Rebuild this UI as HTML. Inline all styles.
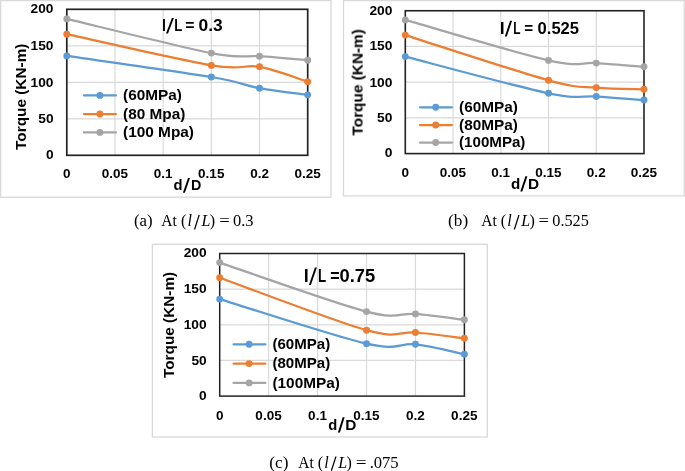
<!DOCTYPE html>
<html><head><meta charset="utf-8"><title>Torque vs d/D charts</title><style>
html,body{margin:0;padding:0;background:#fff;width:685px;height:471px;overflow:hidden;}
svg{display:block;}
text{fill:#000;}
</style></head><body>
<svg width="685" height="471" viewBox="0 0 685 471">
<rect x="0.6" y="0.6" width="330.40" height="196.60" fill="#fff" stroke="#d9d9d9" stroke-width="1.3"/>
<rect x="343.5" y="0.6" width="340.70" height="195.30" fill="#fff" stroke="#d9d9d9" stroke-width="1.3"/>
<rect x="152.4" y="244.3" width="334.90" height="192.70" fill="#fff" stroke="#d9d9d9" stroke-width="1.3"/>
<line x1="114.98" y1="9.3" x2="114.98" y2="155.3" stroke="#d9d9d9" stroke-width="1.2"/>
<line x1="163.16" y1="9.3" x2="163.16" y2="155.3" stroke="#d9d9d9" stroke-width="1.2"/>
<line x1="211.34" y1="9.3" x2="211.34" y2="155.3" stroke="#d9d9d9" stroke-width="1.2"/>
<line x1="259.52" y1="9.3" x2="259.52" y2="155.3" stroke="#d9d9d9" stroke-width="1.2"/>
<line x1="66.8" y1="118.80" x2="307.7" y2="118.80" stroke="#d9d9d9" stroke-width="1.2"/>
<line x1="66.8" y1="82.30" x2="307.7" y2="82.30" stroke="#d9d9d9" stroke-width="1.2"/>
<line x1="66.8" y1="45.80" x2="307.7" y2="45.80" stroke="#d9d9d9" stroke-width="1.2"/>
<rect x="66.8" y="9.3" width="240.90" height="146.00" fill="none" stroke="#222222" stroke-width="1.7"/>
<line x1="453.04" y1="10.75" x2="453.04" y2="153.6" stroke="#d9d9d9" stroke-width="1.2"/>
<line x1="500.78" y1="10.75" x2="500.78" y2="153.6" stroke="#d9d9d9" stroke-width="1.2"/>
<line x1="548.52" y1="10.75" x2="548.52" y2="153.6" stroke="#d9d9d9" stroke-width="1.2"/>
<line x1="596.26" y1="10.75" x2="596.26" y2="153.6" stroke="#d9d9d9" stroke-width="1.2"/>
<line x1="405.3" y1="117.89" x2="644.0" y2="117.89" stroke="#d9d9d9" stroke-width="1.2"/>
<line x1="405.3" y1="82.17" x2="644.0" y2="82.17" stroke="#d9d9d9" stroke-width="1.2"/>
<line x1="405.3" y1="46.46" x2="644.0" y2="46.46" stroke="#d9d9d9" stroke-width="1.2"/>
<rect x="405.3" y="10.75" width="238.70" height="142.85" fill="none" stroke="#222222" stroke-width="1.6"/>
<line x1="268.64" y1="253.5" x2="268.64" y2="396.1" stroke="#d9d9d9" stroke-width="1.2"/>
<line x1="317.58" y1="253.5" x2="317.58" y2="396.1" stroke="#d9d9d9" stroke-width="1.2"/>
<line x1="366.52" y1="253.5" x2="366.52" y2="396.1" stroke="#d9d9d9" stroke-width="1.2"/>
<line x1="415.46" y1="253.5" x2="415.46" y2="396.1" stroke="#d9d9d9" stroke-width="1.2"/>
<line x1="219.7" y1="360.45" x2="464.4" y2="360.45" stroke="#d9d9d9" stroke-width="1.2"/>
<line x1="219.7" y1="324.80" x2="464.4" y2="324.80" stroke="#d9d9d9" stroke-width="1.2"/>
<line x1="219.7" y1="289.15" x2="464.4" y2="289.15" stroke="#d9d9d9" stroke-width="1.2"/>
<rect x="219.7" y="253.5" width="244.70" height="142.60" fill="none" stroke="#222222" stroke-width="1.5"/>
<path d="M66.80,55.90 C90.89,59.42 179.22,71.62 211.34,77.00 C243.46,82.38 243.46,85.23 259.52,88.20 C275.58,91.17 299.67,93.74 307.70,94.85" fill="none" stroke="#5B9BD5" stroke-width="2.25" stroke-linejoin="round" stroke-linecap="round"/>
<circle cx="66.80" cy="55.90" r="3.45" fill="#5B9BD5"/>
<circle cx="211.34" cy="77.00" r="3.45" fill="#5B9BD5"/>
<circle cx="259.52" cy="88.20" r="3.45" fill="#5B9BD5"/>
<circle cx="307.70" cy="94.85" r="3.45" fill="#5B9BD5"/>
<path d="M66.80,34.20 C90.89,39.40 179.22,59.97 211.34,65.40 C243.46,70.83 243.46,64.08 259.52,66.80 C275.58,69.52 299.67,79.22 307.70,81.70" fill="none" stroke="#ED7D31" stroke-width="2.25" stroke-linejoin="round" stroke-linecap="round"/>
<circle cx="66.80" cy="34.20" r="3.45" fill="#ED7D31"/>
<circle cx="211.34" cy="65.40" r="3.45" fill="#ED7D31"/>
<circle cx="259.52" cy="66.80" r="3.45" fill="#ED7D31"/>
<circle cx="307.70" cy="81.70" r="3.45" fill="#ED7D31"/>
<path d="M66.80,18.90 C90.89,24.60 179.22,46.88 211.34,53.10 C243.46,59.32 243.46,55.02 259.52,56.20 C275.58,57.38 299.67,59.53 307.70,60.20" fill="none" stroke="#A5A5A5" stroke-width="2.25" stroke-linejoin="round" stroke-linecap="round"/>
<circle cx="66.80" cy="18.90" r="3.45" fill="#A5A5A5"/>
<circle cx="211.34" cy="53.10" r="3.45" fill="#A5A5A5"/>
<circle cx="259.52" cy="56.20" r="3.45" fill="#A5A5A5"/>
<circle cx="307.70" cy="60.20" r="3.45" fill="#A5A5A5"/>
<path d="M405.30,56.60 C429.17,62.72 516.69,86.66 548.52,93.30 C580.35,99.94 580.35,95.33 596.26,96.45 C612.17,97.58 636.04,99.45 644.00,100.05" fill="none" stroke="#5B9BD5" stroke-width="2.25" stroke-linejoin="round" stroke-linecap="round"/>
<circle cx="405.30" cy="56.60" r="3.45" fill="#5B9BD5"/>
<circle cx="548.52" cy="93.30" r="3.45" fill="#5B9BD5"/>
<circle cx="596.26" cy="96.45" r="3.45" fill="#5B9BD5"/>
<circle cx="644.00" cy="100.05" r="3.45" fill="#5B9BD5"/>
<path d="M405.30,35.10 C429.17,42.63 516.69,71.55 548.52,80.30 C580.35,89.05 580.35,86.10 596.26,87.60 C612.17,89.10 636.04,89.02 644.00,89.30" fill="none" stroke="#ED7D31" stroke-width="2.25" stroke-linejoin="round" stroke-linecap="round"/>
<circle cx="405.30" cy="35.10" r="3.45" fill="#ED7D31"/>
<circle cx="548.52" cy="80.30" r="3.45" fill="#ED7D31"/>
<circle cx="596.26" cy="87.60" r="3.45" fill="#ED7D31"/>
<circle cx="644.00" cy="89.30" r="3.45" fill="#ED7D31"/>
<path d="M405.30,19.90 C429.17,26.65 516.69,53.20 548.52,60.40 C580.35,67.60 580.35,62.03 596.26,63.10 C612.17,64.17 636.04,66.18 644.00,66.80" fill="none" stroke="#A5A5A5" stroke-width="2.25" stroke-linejoin="round" stroke-linecap="round"/>
<circle cx="405.30" cy="19.90" r="3.45" fill="#A5A5A5"/>
<circle cx="548.52" cy="60.40" r="3.45" fill="#A5A5A5"/>
<circle cx="596.26" cy="63.10" r="3.45" fill="#A5A5A5"/>
<circle cx="644.00" cy="66.80" r="3.45" fill="#A5A5A5"/>
<path d="M219.70,299.10 C244.17,306.53 333.89,336.17 366.52,343.70 C399.15,351.23 399.15,342.55 415.46,344.30 C431.77,346.05 456.24,352.55 464.40,354.20" fill="none" stroke="#5B9BD5" stroke-width="2.25" stroke-linejoin="round" stroke-linecap="round"/>
<circle cx="219.70" cy="299.10" r="3.45" fill="#5B9BD5"/>
<circle cx="366.52" cy="343.70" r="3.45" fill="#5B9BD5"/>
<circle cx="415.46" cy="344.30" r="3.45" fill="#5B9BD5"/>
<circle cx="464.40" cy="354.20" r="3.45" fill="#5B9BD5"/>
<path d="M219.70,277.70 C244.17,286.45 333.89,321.07 366.52,330.20 C399.15,339.33 399.15,331.17 415.46,332.50 C431.77,333.83 456.24,337.25 464.40,338.20" fill="none" stroke="#ED7D31" stroke-width="2.25" stroke-linejoin="round" stroke-linecap="round"/>
<circle cx="219.70" cy="277.70" r="3.45" fill="#ED7D31"/>
<circle cx="366.52" cy="330.20" r="3.45" fill="#ED7D31"/>
<circle cx="415.46" cy="332.50" r="3.45" fill="#ED7D31"/>
<circle cx="464.40" cy="338.20" r="3.45" fill="#ED7D31"/>
<path d="M219.70,262.60 C244.17,270.77 333.89,303.05 366.52,311.60 C399.15,320.15 399.15,312.53 415.46,313.90 C431.77,315.27 456.24,318.82 464.40,319.80" fill="none" stroke="#A5A5A5" stroke-width="2.25" stroke-linejoin="round" stroke-linecap="round"/>
<circle cx="219.70" cy="262.60" r="3.45" fill="#A5A5A5"/>
<circle cx="366.52" cy="311.60" r="3.45" fill="#A5A5A5"/>
<circle cx="415.46" cy="313.90" r="3.45" fill="#A5A5A5"/>
<circle cx="464.40" cy="319.80" r="3.45" fill="#A5A5A5"/>
<line x1="84.0" y1="95.4" x2="115.9" y2="95.4" stroke="#5B9BD5" stroke-width="2.25" stroke-linecap="round"/>
<circle cx="99.9" cy="95.4" r="3.45" fill="#5B9BD5"/>
<line x1="84.0" y1="114.0" x2="115.9" y2="114.0" stroke="#ED7D31" stroke-width="2.25" stroke-linecap="round"/>
<circle cx="99.9" cy="114.0" r="3.45" fill="#ED7D31"/>
<line x1="84.0" y1="132.4" x2="115.9" y2="132.4" stroke="#A5A5A5" stroke-width="2.25" stroke-linecap="round"/>
<circle cx="99.9" cy="132.4" r="3.45" fill="#A5A5A5"/>
<line x1="420.0" y1="107.3" x2="451.9" y2="107.3" stroke="#5B9BD5" stroke-width="2.25" stroke-linecap="round"/>
<circle cx="435.7" cy="107.3" r="3.45" fill="#5B9BD5"/>
<line x1="420.0" y1="125.0" x2="451.9" y2="125.0" stroke="#ED7D31" stroke-width="2.25" stroke-linecap="round"/>
<circle cx="435.7" cy="125.0" r="3.45" fill="#ED7D31"/>
<line x1="420.0" y1="142.55" x2="451.9" y2="142.55" stroke="#A5A5A5" stroke-width="2.25" stroke-linecap="round"/>
<circle cx="435.7" cy="142.55" r="3.45" fill="#A5A5A5"/>
<line x1="233.5" y1="344.3" x2="265.4" y2="344.3" stroke="#5B9BD5" stroke-width="2.25" stroke-linecap="round"/>
<circle cx="249.1" cy="344.3" r="3.45" fill="#5B9BD5"/>
<line x1="233.5" y1="363.6" x2="265.4" y2="363.6" stroke="#ED7D31" stroke-width="2.25" stroke-linecap="round"/>
<circle cx="249.1" cy="363.6" r="3.45" fill="#ED7D31"/>
<line x1="233.5" y1="382.9" x2="265.4" y2="382.9" stroke="#A5A5A5" stroke-width="2.25" stroke-linecap="round"/>
<circle cx="249.1" cy="382.9" r="3.45" fill="#A5A5A5"/>
<g style="filter:grayscale(1)">
<text transform="translate(30.59,12.98) scale(1.0827,1)" font-family="Liberation Sans" font-weight="bold" font-size="12.7">200</text>
<text transform="translate(30.59,49.68) scale(1.0827,1)" font-family="Liberation Sans" font-weight="bold" font-size="12.7">150</text>
<text transform="translate(30.59,86.58) scale(1.0827,1)" font-family="Liberation Sans" font-weight="bold" font-size="12.7">100</text>
<text transform="translate(38.29,122.78) scale(1.0827,1)" font-family="Liberation Sans" font-weight="bold" font-size="12.7">50</text>
<text transform="translate(45.99,159.43) scale(1.0827,1)" font-family="Liberation Sans" font-weight="bold" font-size="12.7">0</text>
<text transform="translate(369.39,14.73) scale(1.0876,1)" font-family="Liberation Sans" font-weight="bold" font-size="12.7">200</text>
<text transform="translate(369.39,50.38) scale(1.0876,1)" font-family="Liberation Sans" font-weight="bold" font-size="12.7">150</text>
<text transform="translate(369.39,86.58) scale(1.0876,1)" font-family="Liberation Sans" font-weight="bold" font-size="12.7">100</text>
<text transform="translate(377.12,122.08) scale(1.0876,1)" font-family="Liberation Sans" font-weight="bold" font-size="12.7">50</text>
<text transform="translate(384.86,157.48) scale(1.0876,1)" font-family="Liberation Sans" font-weight="bold" font-size="12.7">0</text>
<text transform="translate(183.69,257.43) scale(1.0827,1)" font-family="Liberation Sans" font-weight="bold" font-size="12.7">200</text>
<text transform="translate(183.69,293.38) scale(1.0827,1)" font-family="Liberation Sans" font-weight="bold" font-size="12.7">150</text>
<text transform="translate(183.69,329.38) scale(1.0827,1)" font-family="Liberation Sans" font-weight="bold" font-size="12.7">100</text>
<text transform="translate(191.39,365.18) scale(1.0827,1)" font-family="Liberation Sans" font-weight="bold" font-size="12.7">50</text>
<text transform="translate(199.09,400.28) scale(1.0827,1)" font-family="Liberation Sans" font-weight="bold" font-size="12.7">0</text>
<text transform="translate(63.08,178.48) scale(1.0638,1)" font-family="Liberation Sans" font-weight="bold" font-size="12.7">0</text>
<text transform="translate(101.74,178.48) scale(1.0638,1)" font-family="Liberation Sans" font-weight="bold" font-size="12.7">0.05</text>
<text transform="translate(153.70,178.48) scale(1.0638,1)" font-family="Liberation Sans" font-weight="bold" font-size="12.7">0.1</text>
<text transform="translate(198.10,178.48) scale(1.0638,1)" font-family="Liberation Sans" font-weight="bold" font-size="12.7">0.15</text>
<text transform="translate(250.13,178.48) scale(1.0638,1)" font-family="Liberation Sans" font-weight="bold" font-size="12.7">0.2</text>
<text transform="translate(294.46,178.48) scale(1.0638,1)" font-family="Liberation Sans" font-weight="bold" font-size="12.7">0.25</text>
<text transform="translate(401.57,177.03) scale(1.0680,1)" font-family="Liberation Sans" font-weight="bold" font-size="12.7">0</text>
<text transform="translate(439.75,177.03) scale(1.0680,1)" font-family="Liberation Sans" font-weight="bold" font-size="12.7">0.05</text>
<text transform="translate(491.29,177.03) scale(1.0680,1)" font-family="Liberation Sans" font-weight="bold" font-size="12.7">0.1</text>
<text transform="translate(535.23,177.03) scale(1.0680,1)" font-family="Liberation Sans" font-weight="bold" font-size="12.7">0.15</text>
<text transform="translate(586.83,177.03) scale(1.0680,1)" font-family="Liberation Sans" font-weight="bold" font-size="12.7">0.2</text>
<text transform="translate(630.71,177.03) scale(1.0680,1)" font-family="Liberation Sans" font-weight="bold" font-size="12.7">0.25</text>
<text transform="translate(215.97,419.88) scale(1.0680,1)" font-family="Liberation Sans" font-weight="bold" font-size="12.7">0</text>
<text transform="translate(255.35,419.88) scale(1.0680,1)" font-family="Liberation Sans" font-weight="bold" font-size="12.7">0.05</text>
<text transform="translate(308.09,419.88) scale(1.0680,1)" font-family="Liberation Sans" font-weight="bold" font-size="12.7">0.1</text>
<text transform="translate(353.23,419.88) scale(1.0680,1)" font-family="Liberation Sans" font-weight="bold" font-size="12.7">0.15</text>
<text transform="translate(406.03,419.88) scale(1.0680,1)" font-family="Liberation Sans" font-weight="bold" font-size="12.7">0.2</text>
<text transform="translate(451.11,419.88) scale(1.0680,1)" font-family="Liberation Sans" font-weight="bold" font-size="12.7">0.25</text>
<text transform="translate(161.90,31.10) scale(0.8606,1)" font-family="Liberation Sans" font-weight="bold" font-size="16.6">l</text>
<text transform="translate(174.28,31.10) scale(0.7914,1)" font-family="Liberation Sans" font-weight="bold" font-size="16.6">L</text>
<text transform="translate(185.37,31.10) scale(0.9518,1)" font-family="Liberation Sans" font-weight="bold" font-size="16.6">=</text>
<text transform="translate(198.50,31.10) scale(1.0485,1)" font-family="Liberation Sans" font-weight="bold" font-size="16.6">0.3</text>
<text transform="translate(499.85,33.50) scale(1.1161,1)" font-family="Liberation Sans" font-weight="bold" font-size="16.0">l</text>
<text transform="translate(513.26,33.50) scale(0.7475,1)" font-family="Liberation Sans" font-weight="bold" font-size="16.0">L</text>
<text transform="translate(524.29,33.50) scale(0.9500,1)" font-family="Liberation Sans" font-weight="bold" font-size="16.0">=</text>
<text transform="translate(537.54,33.50) scale(1.0374,1)" font-family="Liberation Sans" font-weight="bold" font-size="16.0">0.525</text>
<text transform="translate(303.78,281.70) scale(1.0408,1)" font-family="Liberation Sans" font-weight="bold" font-size="17.5">l</text>
<text transform="translate(317.97,281.70) scale(0.7619,1)" font-family="Liberation Sans" font-weight="bold" font-size="17.5">L</text>
<text transform="translate(330.26,281.70) scale(0.9143,1)" font-family="Liberation Sans" font-weight="bold" font-size="17.5">=</text>
<text transform="translate(339.57,281.70) scale(1.0486,1)" font-family="Liberation Sans" font-weight="bold" font-size="17.5">0.75</text>
<text transform="translate(173.51,190.30) scale(0.9548,1)" font-family="Liberation Sans" font-weight="bold" font-size="15.5">d</text>
<text transform="translate(191.00,190.30) scale(0.9201,1)" font-family="Liberation Sans" font-weight="bold" font-size="15.5">D</text>
<text transform="translate(511.09,188.60) scale(0.9806,1)" font-family="Liberation Sans" font-weight="bold" font-size="15.5">d</text>
<text transform="translate(527.92,188.60) scale(0.9942,1)" font-family="Liberation Sans" font-weight="bold" font-size="15.5">D</text>
<text transform="translate(328.31,429.60) scale(0.9548,1)" font-family="Liberation Sans" font-weight="bold" font-size="15.5">d</text>
<text transform="translate(345.22,429.60) scale(0.9942,1)" font-family="Liberation Sans" font-weight="bold" font-size="15.5">D</text>
<text transform="translate(26.40,149.95) rotate(-90) scale(1.0042,1)" font-family="Liberation Sans" font-weight="bold" font-size="15.3">Torque (KN-m)</text>
<text transform="translate(362.60,135.55) rotate(-90) scale(1.0047,1)" font-family="Liberation Sans" font-weight="bold" font-size="15.3">Torque (KN-m)</text>
<text transform="translate(173.90,378.05) rotate(-90) scale(1.0027,1)" font-family="Liberation Sans" font-weight="bold" font-size="15.3">Torque (KN-m)</text>
<text transform="translate(123.03,100.05) scale(1.0963,1)" font-family="Liberation Sans" font-weight="bold" font-size="14.0">(60MPa)</text>
<text transform="translate(123.03,118.65) scale(1.0967,1)" font-family="Liberation Sans" font-weight="bold" font-size="14.0">(80 Mpa)</text>
<text transform="translate(123.03,137.05) scale(1.0991,1)" font-family="Liberation Sans" font-weight="bold" font-size="14.0">(100 Mpa)</text>
<text transform="translate(459.03,111.95) scale(1.0963,1)" font-family="Liberation Sans" font-weight="bold" font-size="14.0">(60MPa)</text>
<text transform="translate(459.03,129.65) scale(1.0963,1)" font-family="Liberation Sans" font-weight="bold" font-size="14.0">(80MPa)</text>
<text transform="translate(459.04,147.20) scale(1.0806,1)" font-family="Liberation Sans" font-weight="bold" font-size="14.0">(100MPa)</text>
<text transform="translate(272.45,348.95) scale(1.0772,1)" font-family="Liberation Sans" font-weight="bold" font-size="14.0">(60MPa)</text>
<text transform="translate(272.45,368.25) scale(1.0772,1)" font-family="Liberation Sans" font-weight="bold" font-size="14.0">(80MPa)</text>
<text transform="translate(272.43,387.55) scale(1.0989,1)" font-family="Liberation Sans" font-weight="bold" font-size="14.0">(100MPa)</text>
<text transform="translate(133.93,226.20) scale(1.0498,1)" font-family="Liberation Serif" font-weight="normal" font-size="16.0">(a)</text>
<text transform="translate(161.34,226.20) scale(0.9758,1)" font-family="Liberation Serif" font-weight="normal" font-size="16.0">At</text>
<text transform="translate(180.96,226.20)" font-family="Liberation Serif" font-weight="normal" font-size="16.0">(</text>
<text transform="translate(187.55,226.20)" font-family="Liberation Serif" font-weight="normal" font-size="16.0" font-style="italic">l</text>
<text transform="translate(201.45,226.20)" font-family="Liberation Serif" font-weight="normal" font-size="16.0" font-style="italic">L</text>
<text transform="translate(209.66,226.20)" font-family="Liberation Serif" font-weight="normal" font-size="16.0">)</text>
<text transform="translate(219.17,226.20) scale(1.1569,1)" font-family="Liberation Serif" font-weight="normal" font-size="16.0">=</text>
<text transform="translate(232.94,226.20) scale(1.0310,1)" font-family="Liberation Serif" font-weight="normal" font-size="16.0">0.3</text>
<text transform="translate(448.11,226.20) scale(1.0764,1)" font-family="Liberation Serif" font-weight="normal" font-size="16.0">(b)</text>
<text transform="translate(481.14,226.20) scale(0.9758,1)" font-family="Liberation Serif" font-weight="normal" font-size="16.0">At</text>
<text transform="translate(500.76,226.20)" font-family="Liberation Serif" font-weight="normal" font-size="16.0">(</text>
<text transform="translate(507.35,226.20)" font-family="Liberation Serif" font-weight="normal" font-size="16.0" font-style="italic">l</text>
<text transform="translate(521.25,226.20)" font-family="Liberation Serif" font-weight="normal" font-size="16.0" font-style="italic">L</text>
<text transform="translate(529.46,226.20)" font-family="Liberation Serif" font-weight="normal" font-size="16.0">)</text>
<text transform="translate(538.57,226.20) scale(1.1569,1)" font-family="Liberation Serif" font-weight="normal" font-size="16.0">=</text>
<text transform="translate(552.25,226.20) scale(1.0167,1)" font-family="Liberation Serif" font-weight="normal" font-size="16.0">0.525</text>
<text transform="translate(269.31,467.60) scale(1.0740,1)" font-family="Liberation Serif" font-weight="normal" font-size="16.0">(c)</text>
<text transform="translate(298.14,467.60) scale(0.9758,1)" font-family="Liberation Serif" font-weight="normal" font-size="16.0">At</text>
<text transform="translate(317.76,467.60)" font-family="Liberation Serif" font-weight="normal" font-size="16.0">(</text>
<text transform="translate(324.35,467.60)" font-family="Liberation Serif" font-weight="normal" font-size="16.0" font-style="italic">l</text>
<text transform="translate(338.25,467.60)" font-family="Liberation Serif" font-weight="normal" font-size="16.0" font-style="italic">L</text>
<text transform="translate(346.46,467.60)" font-family="Liberation Serif" font-weight="normal" font-size="16.0">)</text>
<text transform="translate(355.84,467.60) scale(1.1968,1)" font-family="Liberation Serif" font-weight="normal" font-size="16.0">=</text>
<text transform="translate(369.64,467.60) scale(1.0366,1)" font-family="Liberation Serif" font-weight="normal" font-size="16.0">.075</text>
<polygon points="171.90,18.10 173.90,18.10 168.00,33.50 166.00,33.50" fill="#000"/>
<polygon points="510.10,20.70 512.10,20.70 506.80,36.40 504.80,36.40" fill="#000"/>
<polygon points="314.90,267.60 316.90,267.60 310.90,284.90 308.90,284.90" fill="#000"/>
<polygon points="188.00,178.00 190.00,178.00 184.90,192.70 182.90,192.70" fill="#000"/>
<polygon points="525.40,176.30 527.40,176.30 522.30,191.50 520.30,191.50" fill="#000"/>
<polygon points="342.70,417.30 344.70,417.30 339.90,432.50 337.90,432.50" fill="#000"/>
<polygon points="198.50,215.00 199.80,215.00 195.20,229.40 193.90,229.40" fill="#000"/>
<polygon points="518.30,215.00 519.60,215.00 515.00,229.40 513.70,229.40" fill="#000"/>
<polygon points="335.30,456.40 336.60,456.40 332.00,470.80 330.70,470.80" fill="#000"/>
</g>
</svg>
</body></html>
